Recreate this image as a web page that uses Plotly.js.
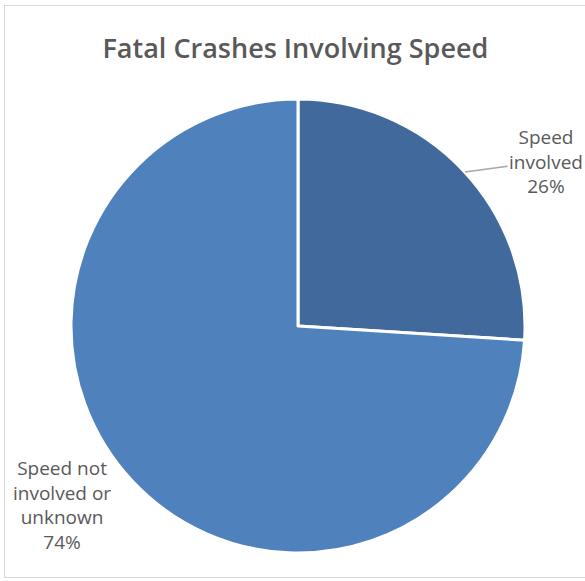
<!DOCTYPE html>
<html>
<head>
<meta charset="utf-8">
<script src="https://cdn.plot.ly/plotly-3.0.1.min.js"></script>
<style>
  html, body { margin: 0; padding: 0; background: #ffffff; overflow: hidden; }
  #chart { width: 585px; height: 581px; position: absolute; left: 0; top: 0; }
  #frame { position: absolute; left: 4px; top: 5px; width: 600px; height: 571px;
           border: 1px solid #d9d9d9; pointer-events: none; }
</style>
</head>
<body>
<div id="chart"></div>
<div id="frame"></div>
<script>
const chartTitle = "Fatal Crashes Involving Speed";
const categories = ["Speed involved", "Speed not involved or unknown"];
const percentValues = [26, 74];
const labelLines = [["Speed", "involved"], ["Speed not", "involved or", "unknown"]];
const sliceColors = ["#41699B", "#4F81BD"];

const fontFam = "'Open Sans', 'Noto Sans', sans-serif";

const trace = {
  type: "pie",
  labels: categories,
  values: percentValues,
  sort: false,
  direction: "clockwise",
  rotation: 0,
  textinfo: "none",
  hoverinfo: "label+percent",
  marker: { colors: sliceColors, line: { color: "#ffffff", width: 3 } },
  domain: { x: [0, 1], y: [0, 1] },
  showlegend: false
};

function labelText(i) {
  return labelLines[i].join("<br>") + "<br>" + percentValues[i] + "%";
}

const layout = {
  width: 585,
  height: 581,
  margin: { l: 71, r: 60, t: 99, b: 28, pad: 0 },
  paper_bgcolor: "rgba(0,0,0,0)",
  plot_bgcolor: "rgba(0,0,0,0)",
  showlegend: false,
  title: {
    text: chartTitle,
    font: { family: fontFam, size: 27, weight: 600, color: "#595959" },
    x: 0.505, xref: "container", xanchor: "center",
    y: 0.917, yref: "container", yanchor: "middle"
  },
  annotations: [
    {
      text: labelText(0),
      xref: "paper", yref: "paper",
      x: 0.868, y: 0.839,
      showarrow: true, arrowhead: 0, arrowwidth: 1.5, arrowcolor: "#a6a6a6",
      ax: 81, ay: -11,
      font: { family: fontFam, size: 19, color: "#595959" },
      align: "center"
    },
    {
      text: labelText(1),
      xref: "paper", yref: "paper",
      x: -0.02, y: 0.105,
      xanchor: "center", yanchor: "middle",
      showarrow: false,
      font: { family: fontFam, size: 19, color: "#595959" },
      align: "center"
    }
  ]
};

Plotly.newPlot("chart", [trace], layout, { displayModeBar: false, staticPlot: true });
</script>
</body>
</html>
